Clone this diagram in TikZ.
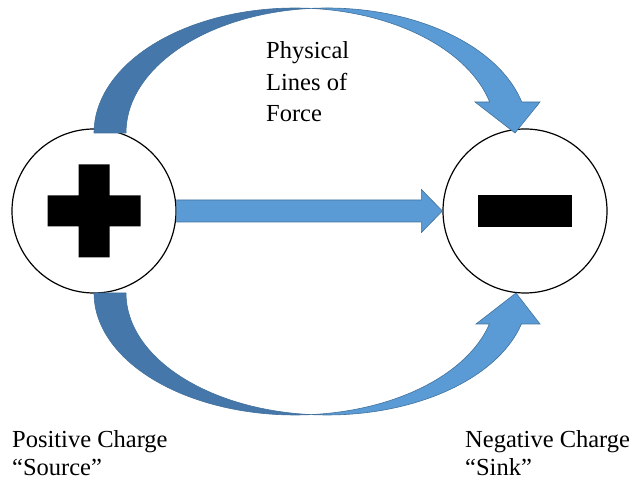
\documentclass[tikz,border=0pt]{standalone}
\usepackage{fontspec}
\setmainfont{Liberation Serif}
\usetikzlibrary{calc}
\definecolor{arrowfill}{HTML}{5B9BD5}
\definecolor{arrowline}{HTML}{41719C}
\definecolor{arrowshade}{HTML}{4677AA}

\begin{document}
\begin{tikzpicture}[x=1pt,y=1pt,
  charge/.style={circle, draw=black, line width=1.2pt, fill=white,
    minimum size=164pt, inner sep=0pt},
  fieldlit/.style={fill=arrowfill, draw=arrowline, line width=0.6pt, line join=miter},
  fieldshade/.style={fill=arrowshade, draw=arrowline, line width=0.6pt, line join=miter},
  signmark/.style={fill=black},
  caption/.style={align=left, anchor=base west, inner sep=0pt},
  captionsize/.style={font=\fontsize{24.5}{#1}\selectfont}]
\useasboundingbox (0,0) rectangle (635,484);

% the two charges
\node[charge] (pos) at (94,273) {};
\node[charge] (neg) at (525,273) {};

% plus and minus signs
\fill[signmark] ($(pos)+(-46.5,-15.5)$) rectangle ($(pos)+(46.5,15.5)$)
                ($(pos)+(-15.5,-46.5)$) rectangle ($(pos)+(15.5,46.5)$);
\fill[signmark] ($(neg)+(-47,-16)$) rectangle ($(neg)+(47,16)$);

% straight line of force
\draw[fieldlit] ($(pos.east)+(0,11)$) -- ($(neg.west)+(-21,11)$)
  -- ($(neg.west)+(-21,21.5)$) -- (neg.west) -- ($(neg.west)+(-21,-21.5)$)
  -- ($(neg.west)+(-21,-11)$) -- ($(pos.east)+(0,-11)$) -- cycle;

% upper curved line of force: two equal half-ellipses shifted by the band width
\draw[fieldshade] (94,351)
  arc[start angle=180, end angle=85.43, x radius=201, y radius=125]
  arc[start angle=94.57, end angle=180, x radius=201, y radius=125] -- cycle;
\draw[fieldlit] (311,475.6)
  arc[start angle=94.57, end angle=14.36, x radius=201, y radius=125]
  -- (540,382) -- (515,351) -- (475,382) -- (489.7,382)
  arc[start angle=14.36, end angle=85.43, x radius=201, y radius=125] -- cycle;

% lower curved line of force
\draw[fieldshade] (94,191)
  arc[start angle=180, end angle=274.57, x radius=201, y radius=122]
  arc[start angle=265.43, end angle=180, x radius=201, y radius=122] -- cycle;
\draw[fieldlit] (311,69.4)
  arc[start angle=265.43, end angle=345.28, x radius=201, y radius=122]
  -- (540,160) -- (516,191) -- (476,160) -- (489.4,160)
  arc[start angle=345.28, end angle=274.57, x radius=201, y radius=122] -- cycle;

% captions (anchored at the baseline of their last line)
\node[caption, captionsize=31.5] (lines) at (266,362) {Physical\\Lines of\\Force};
\node[caption, captionsize=28] (source) at (12,8) {Positive Charge\\“Source”};
\node[caption, captionsize=28] (sink) at (465,8) {Negative Charge\\“Sink”};
\end{tikzpicture}
\end{document}
